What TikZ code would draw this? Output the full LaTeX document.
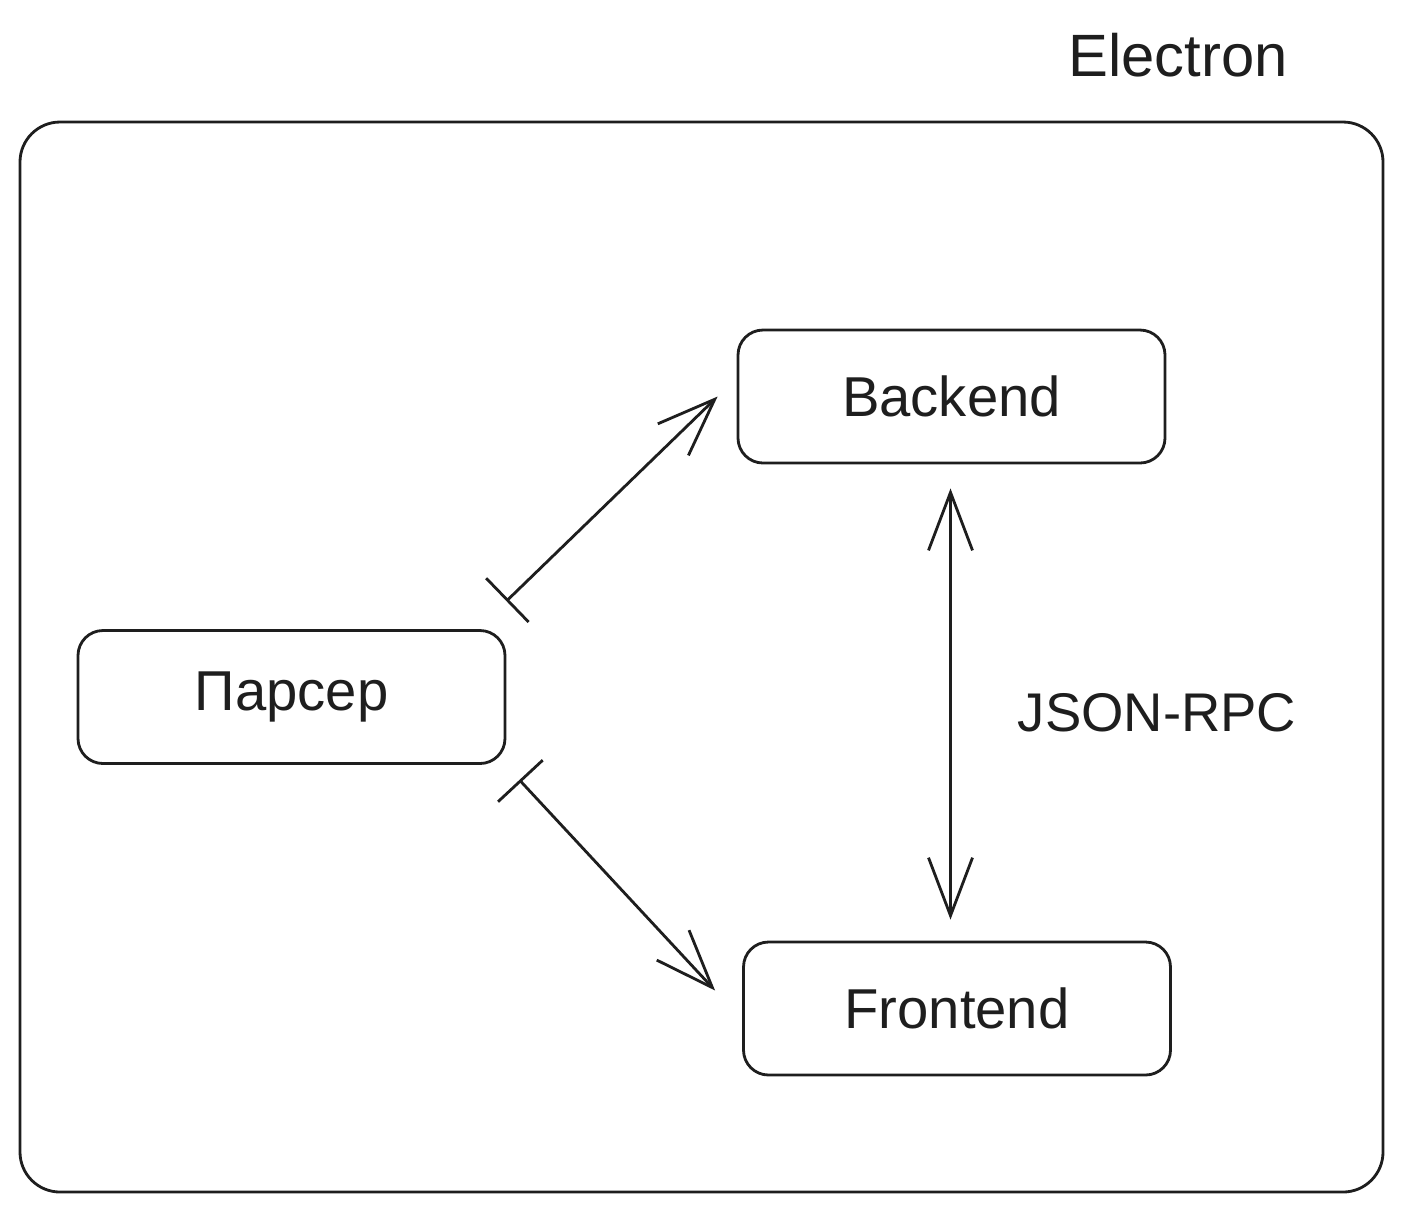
\documentclass[tikz,border=0pt]{standalone}
\usepackage{fontspec}
\setmainfont{Liberation Sans}
\usepackage{xcolor}
\usepackage{tikz}
\usetikzlibrary{arrows.meta, positioning, shapes}
\definecolor{ink}{HTML}{1E1E1E}
\newcommand{\lbl}{\fontsize{16}{19}\selectfont}

\begin{document}
\begin{tikzpicture}[ink, line width=0.8pt,
	box/.style={draw, rounded corners=0.25cm, minimum width=4.27cm, minimum height=1.33cm, font=\lbl},
	rtip/.tip={Straight Barb[length=0.58cm, width=0.44cm]},
	rbar/.tip={Bar[width=0.61cm]}]
\useasboundingbox (0,0) rectangle (14.03,-12.11);
\node(electron) at (11.78,-0.55) {\fontsize{17}{20}\selectfont Electron};
\node(app)[draw, rounded corners=0.4cm, minimum width=13.63cm, minimum height=10.70cm] at (7.015,-6.57) {};

\node(back)[box] at (9.515,-3.965) {Backend};
\node(parser)[box] at (2.915,-6.97) {Парсер};
\node(front)[box,xshift=0.055cm,yshift=-6.12cm] at (back) {Frontend};

\coordinate(pt) at ([yshift=0.28cm]parser.north east);
\coordinate(pb) at ([xshift=0.13cm,yshift=-0.15cm]parser.south east);
\coordinate(bw) at ([xshift=-0.19cm]back.west);
\coordinate(fw) at ([xshift=-0.27cm,yshift=0.18cm]front.west);
\coordinate(bs) at ([xshift=-0.01cm,yshift=-0.24cm]back.south);
\coordinate(fn) at ([xshift=-0.01cm,yshift=0.21cm]back.south |- front.north);

\draw	(pt) edge[rbar-rtip] (bw)
		(pb) edge[rbar-rtip] (fw)
		(bs) edge[rtip-rtip] (fn);
\node(rpc) at (11.57,-7.13) {\fontsize{15.5}{18}\selectfont JSON-RPC};
\end{tikzpicture}
\end{document}
